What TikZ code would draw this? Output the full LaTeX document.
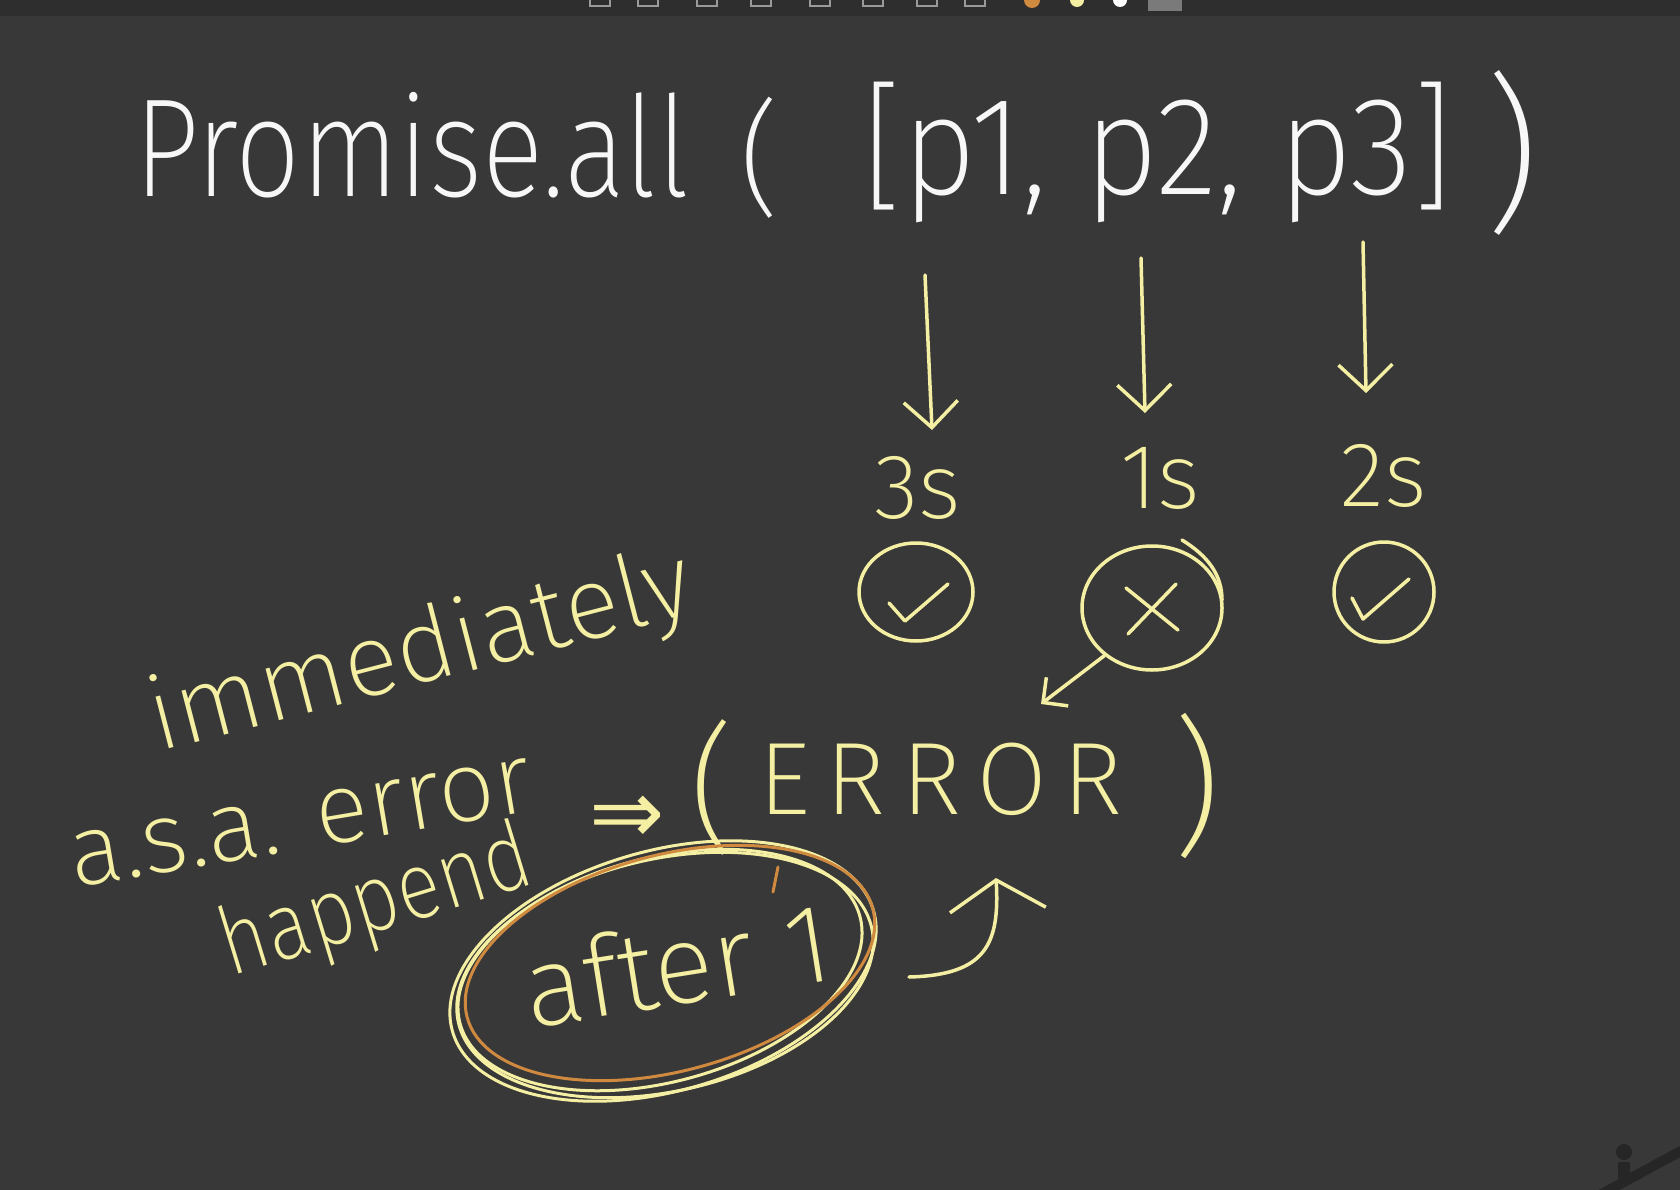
\documentclass[tikz,border=0pt]{standalone}
\usepackage{fontspec}
\usetikzlibrary{arrows.meta,shapes.geometric,calc}
\IfFontExistsTF{Fira Sans ExtraLight}{\newfontfamily\hand{Fira Sans ExtraLight}}{\IfFontExistsTF{Fira Sans Light}{\newfontfamily\hand{Fira Sans Light}}{\newfontfamily\hand{Fira Sans}}}
\newfontfamily\symf{DejaVu Sans}
\definecolor{bg}{HTML}{383838}
\definecolor{bar}{HTML}{2E2E2E}
\definecolor{inkY}{HTML}{F4EFA2}
\definecolor{inkW}{HTML}{F7F7F7}
\definecolor{inkO}{HTML}{D08A40}
\definecolor{icon}{HTML}{9A9A9A}
\definecolor{pen}{HTML}{262626}
\newcommand\fs[1]{\fontsize{#1}{#1}\selectfont}
\begin{document}
\begin{tikzpicture}[x=1pt,y=-1pt,
  ink/.style={draw=inkY,line width=3.5pt,line cap=round,line join=round},
  inko/.style={draw=inkO,line width=3.5pt,line cap=round,line join=round},
  txtY/.style={text=inkY,inner sep=0pt},
  txtW/.style={text=inkW,inner sep=0pt},
  barb/.style={-{Straight Barb[length=26pt,width=54pt]}},
  smallbarb/.style={-{Straight Barb[length=18pt,width=36pt]}},
  ring/.style={ellipse,inner sep=0pt,line width=3pt},
]
% background
\fill[bg] (0,0) rectangle (1680,1190);
\fill[bar] (0,0) rectangle (1680,16);
\useasboundingbox (0,0) rectangle (1680,1190);
% toolbar remnants
\begin{scope}
\clip (0,0) rectangle (1680,16);
\foreach \x in {600,648,707,761,820,873,927,975}{
  \draw[icon,line width=2pt] (\x-10,-4) rectangle (\x+10,6);
}
\fill[inkO] (1032,0) circle (8);
\fill[inkY] (1077,0) circle (7);
\fill[white] (1120,0) circle (7);
\fill[icon!70!bar] (1148,-5) rectangle (1182,11);
\end{scope}

% top line
\node[txtW,font={\hand\fs{140}},anchor=base west] (pa) at (134,197) {\scalebox{0.82}[1]{Promise.all}};
\node[txtW,font={\hand\fs{125}}] (lp) at (760,158) {(};
\node[txtW,font={\hand\fs{140}},anchor=base west] (arr) at (862,195) {\scalebox{0.92}[1]{[p1, p2, p3]}};
\node[txtW,font={\hand\fs{170}}] (rp) at (1512,153) {)};

% arrows down
\coordinate (a1s) at (925,275); \coordinate (a1e) at (932,430);
\coordinate (a2s) at (1141,258); \coordinate (a2e) at (1145,413);
\coordinate (a3s) at (1363,242); \coordinate (a3e) at (1366,393);
\draw[ink,barb] (a1s) -- (a1e);
\draw[ink,barb] (a2s) -- (a2e);
\draw[ink,barb] (a3s) -- (a3e);

% times
\node[txtY,font={\hand\fs{92}}] (t1) at (918,488) {3s};
\node[txtY,font={\hand\fs{92}}] (t2) at (1160,478) {1s};
\node[txtY,font={\hand\fs{92}}] (t3) at (1384,476) {2s};

% status circles
\node[ink,ellipse,minimum width=114pt,minimum height=98pt,inner sep=0pt] (c1) at (916,592) {};
\draw[ink] ([shift={(-27,11)}]c1.center) -- ([shift={(-11,29)}]c1.center) -- ([shift={(32,-8)}]c1.center);
\node[ink,ellipse,minimum width=140pt,minimum height=124pt,inner sep=0pt] (c2) at (1152,608) {};
\draw[ink] ([shift={(-26,-20)}]c2.center) -- ([shift={(26,22)}]c2.center);
\draw[ink] ([shift={(24,-24)}]c2.center) -- ([shift={(-24,26)}]c2.center);
\draw[ink] (1182,540) .. controls (1208,556) and (1222,575) .. (1222,600);
\node[ink,ellipse,minimum width=100pt,minimum height=100pt,inner sep=0pt] (c3) at (1384,592) {};
\draw[ink] ([shift={(-32,6)}]c3.center) -- ([shift={(-21,27)}]c3.center) -- ([shift={(25,-13)}]c3.center);

% arrow to error
\coordinate (ee) at (1041,704);
\draw[ink,smallbarb] (c2.225) -- (ee);

% ( ERROR )
\node[txtY,font={\hand\fs{140}}] (elp) at (712,787) {(};
\node[txtY,font={\hand\fs{103}\addfontfeature{LetterSpace=15}},anchor=base west] (err) at (758,814) {ERROR};
\node[txtY,font={\hand\fs{150}}] (erp) at (1197,786) {)};
\node[txtY,font={\symf\fs{90}}] (imp) at (627,820) {⇒};

% left notes
\node[txtY,font={\hand\fs{102}},anchor=base,rotate=14.5] (imm) at (428,682) {immediately};
\node[txtY,font={\hand\fs{100}},anchor=base,rotate=9.5] (asa) at (305,849) {a.s.a. error};
\node[txtY,font={\hand\fs{95}},anchor=base,rotate=17] (hap) at (384,930) {\scalebox{0.85}[1]{happend}};

% after 1 with rings
\node[txtY,font={\hand\fs{112}},anchor=base,rotate=9] (aft) at (683,1004) {after 1};
\node[ring,draw=inkY,minimum width=438pt,minimum height=240pt,rotate=16] (r1) at (663,971) {};
\node[ring,draw=inkY,minimum width=414pt,minimum height=224pt,rotate=15] (r2) at (660,970) {};
\node[ring,draw=inkY,minimum width=424pt,minimum height=232pt,rotate=13] (r3) at (665,975) {};
\node[ring,draw=inkO,minimum width=420pt,minimum height=216pt,rotate=15] (r4) at (670,963) {};
\draw[inko,line width=3pt] (778,867) -- (773,892);

% hook arrow toward ERROR
\coordinate (hs) at (909,977);
\coordinate (ht) at (996,878);
\draw[ink,-{Straight Barb[length=30pt,width=96pt]}] (hs) .. controls (985,975) and (1000,945) .. (ht);

% stylus in corner
\draw[pen,line width=10pt,line cap=round] (1598,1196) -- (1690,1146);
\fill[pen] (1624,1152) circle (8);
\fill[pen] (1618,1162) rectangle (1630,1180);
\end{tikzpicture}
\end{document}
